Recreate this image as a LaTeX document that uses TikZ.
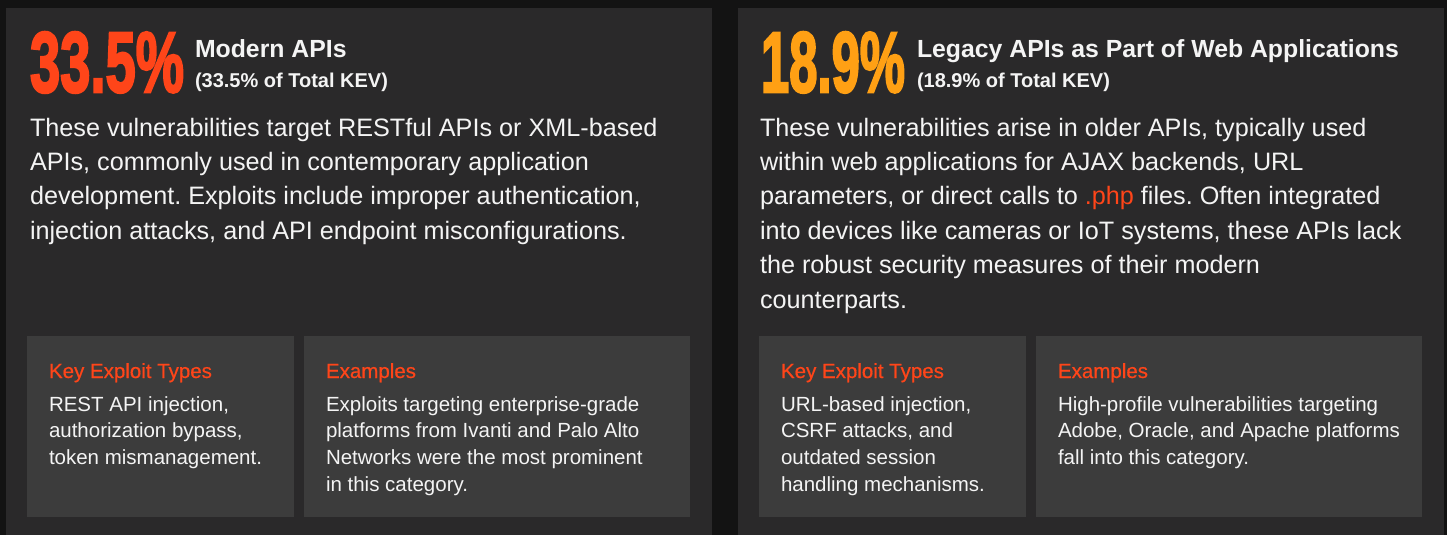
\documentclass[tikz,border=0pt]{standalone}
\usepackage{graphicx}
\usepackage{fontspec}
\setmainfont{Liberation Sans}
\newfontfamily\numfont{Liberation Sans Bold}[FakeBold=3]
\newfontfamily\medfont{Liberation Sans}[FakeBold=0.6]
\definecolor{outerbg}{HTML}{131313}
\definecolor{panelbg}{HTML}{2A292A}
\definecolor{boxbg}{HTML}{3C3C3C}
\definecolor{accent}{HTML}{FF4519}
\definecolor{accentB}{HTML}{FFA014}
\definecolor{txt}{HTML}{F4F4F4}
\frenchspacing
\tikzset{
  txtbase/.style={anchor=base west, inner sep=0pt, outer sep=0pt, text=txt},
  body/.style={txtbase, font=\fontsize{25.2}{30}\selectfont},
  headline/.style={txtbase, font=\bfseries\fontsize{24.8}{30}\selectfont},
  subline/.style={txtbase, font=\bfseries\fontsize{20}{24}\selectfont},
  boxhead/.style={txtbase, text=accent, font=\medfont\fontsize{20.5}{24}\selectfont},
  boxtext/.style={txtbase, font=\fontsize{20.5}{24}\selectfont},
  bignum/.style={anchor=base west, inner sep=0pt, outer sep=0pt},
}
\begin{document}
\begin{tikzpicture}[x=1pt,y=-1pt]
\useasboundingbox (0,0) rectangle (1447,535);
\fill[outerbg] (0,0) rectangle (1447,535);
% panels
\fill[panelbg] (6,8) rectangle (712,535);
\fill[panelbg] (738,8) rectangle (1444,535);
% boxes
\fill[boxbg] (27,336) rectangle (294,517);
\fill[boxbg] (304,336) rectangle (690,517);
\fill[boxbg] (759,336) rectangle (1026,517);
\fill[boxbg] (1036,336) rectangle (1422,517);

% ---------- panel 1 ----------
\node[bignum, text=accent] (n1) at (30,92) {\resizebox{154pt}{60pt}{\numfont 33.5\%}};
\node[headline] (h1) at (195,57) {Modern APIs};
\node[subline] (s1) at (195,87) {(33.5\% of Total KEV)};
\foreach \t [count=\i] in {
  {These vulnerabilities target RESTful APIs or XML-based},
  {APIs, commonly used in contemporary application},
  {development. Exploits include improper authentication,},
  {injection attacks, and API endpoint misconfigurations.}}
  {\node[body] (pa\i) at (30,{136+34.4*(\i-1)}) {\t};}

\node[boxhead] (k1) at (49,378) {Key Exploit Types};
\foreach \t [count=\i] in {
  {REST API injection,},
  {authorization bypass,},
  {token mismanagement.}}
  {\node[boxtext] (ka\i) at (49,{411+26.7*(\i-1)}) {\t};}

\node[boxhead] (e1) at (326,378) {Examples};
\foreach \t [count=\i] in {
  {Exploits targeting enterprise-grade},
  {platforms from Ivanti and Palo Alto},
  {Networks were the most prominent},
  {in this category.}}
  {\node[boxtext] (ea\i) at (326,{411+26.7*(\i-1)}) {\t};}

% ---------- panel 2 ----------
\node[bignum, text=accentB] (n2) at (761,92) {\resizebox{144pt}{60pt}{\numfont 18.9\%}};
\node[headline] (h2) at (917,57) {Legacy APIs as Part of Web Applications};
\node[subline] (s2) at (917,87) {(18.9\% of Total KEV)};
\foreach \t [count=\i] in {
  {These vulnerabilities arise in older APIs, typically used},
  {within web applications for AJAX backends, URL},
  {parameters, or direct calls to \textcolor{accent}{.php} files. Often integrated},
  {into devices like cameras or IoT systems, these APIs lack},
  {the robust security measures of their modern},
  {counterparts.}}
  {\node[body] (pb\i) at (760,{136+34.4*(\i-1)}) {\t};}

\node[boxhead] (k2) at (781,378) {Key Exploit Types};
\foreach \t [count=\i] in {
  {URL-based injection,},
  {CSRF attacks, and},
  {outdated session},
  {handling mechanisms.}}
  {\node[boxtext] (kb\i) at (781,{411+26.7*(\i-1)}) {\t};}

\node[boxhead] (e2) at (1058,378) {Examples};
\foreach \t [count=\i] in {
  {High-profile vulnerabilities targeting},
  {Adobe, Oracle, and Apache platforms},
  {fall into this category.}}
  {\node[boxtext] (eb\i) at (1058,{411+26.7*(\i-1)}) {\t};}
\end{tikzpicture}
\end{document}
